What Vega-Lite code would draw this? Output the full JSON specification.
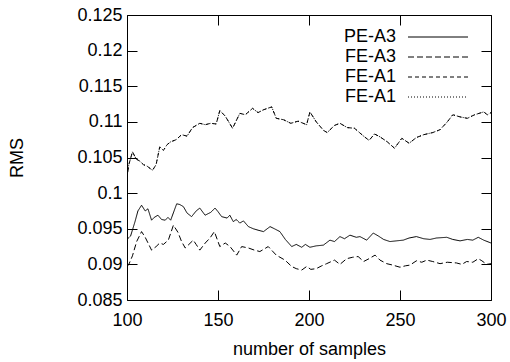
{
  "$schema": "https://vega.github.io/schema/vega-lite/v6.json",
  "width": 364,
  "height": 285,
  "autosize": "none",
  "padding": {"left": 127, "top": 15, "right": 19, "bottom": 62},
  "background": "white",
  "config": {
    "view": {"stroke": "black", "strokeWidth": 1},
    "font": "Liberation Sans",
    "axis": {"labelFont": "Liberation Sans", "titleFont": "Liberation Sans", "labelFontSize": 18, "titleFontSize": 18, "labelColor": "black", "titleColor": "black", "titleFontWeight": "normal", "grid": false, "domain": false, "tickColor": "black", "tickWidth": 1}
  },
  "data": {"values": [
    {"s":"PE-A3","n":100,"v":0.0935},{"s":"PE-A3","n":102,"v":0.0940},{"s":"PE-A3","n":104.4,"v":0.0960},{"s":"PE-A3","n":106,"v":0.0975},{"s":"PE-A3","n":108,"v":0.0983},{"s":"PE-A3","n":110,"v":0.0975},{"s":"PE-A3","n":111.5,"v":0.0978},{"s":"PE-A3","n":113.5,"v":0.0962},{"s":"PE-A3","n":115,"v":0.0966},{"s":"PE-A3","n":117,"v":0.0969},{"s":"PE-A3","n":119,"v":0.0963},{"s":"PE-A3","n":121,"v":0.0962},{"s":"PE-A3","n":122.5,"v":0.0966},{"s":"PE-A3","n":124,"v":0.0962},{"s":"PE-A3","n":127.3,"v":0.0985},{"s":"PE-A3","n":129,"v":0.0984},{"s":"PE-A3","n":131,"v":0.0981},{"s":"PE-A3","n":133,"v":0.0972},{"s":"PE-A3","n":135.5,"v":0.0967},{"s":"PE-A3","n":138,"v":0.0975},{"s":"PE-A3","n":140,"v":0.0979},{"s":"PE-A3","n":142.9,"v":0.0969},{"s":"PE-A3","n":146,"v":0.0973},{"s":"PE-A3","n":148.4,"v":0.0979},{"s":"PE-A3","n":150,"v":0.0974},{"s":"PE-A3","n":152,"v":0.0967},{"s":"PE-A3","n":155,"v":0.0965},{"s":"PE-A3","n":156.5,"v":0.0969},{"s":"PE-A3","n":158.4,"v":0.0960},{"s":"PE-A3","n":160,"v":0.0963},{"s":"PE-A3","n":162,"v":0.0958},{"s":"PE-A3","n":164,"v":0.0961},{"s":"PE-A3","n":166.7,"v":0.0953},{"s":"PE-A3","n":169.4,"v":0.0950},{"s":"PE-A3","n":172,"v":0.0948},{"s":"PE-A3","n":175,"v":0.0946},{"s":"PE-A3","n":178.6,"v":0.0953},{"s":"PE-A3","n":181,"v":0.0950},{"s":"PE-A3","n":184,"v":0.0946},{"s":"PE-A3","n":187,"v":0.0935},{"s":"PE-A3","n":190.5,"v":0.0925},{"s":"PE-A3","n":193,"v":0.0928},{"s":"PE-A3","n":196,"v":0.0924},{"s":"PE-A3","n":198,"v":0.0928},{"s":"PE-A3","n":200.5,"v":0.0924},{"s":"PE-A3","n":204,"v":0.0926},{"s":"PE-A3","n":207.9,"v":0.0927},{"s":"PE-A3","n":211.5,"v":0.0934},{"s":"PE-A3","n":214,"v":0.0932},{"s":"PE-A3","n":217,"v":0.0939},{"s":"PE-A3","n":219.5,"v":0.0936},{"s":"PE-A3","n":222.5,"v":0.0941},{"s":"PE-A3","n":226,"v":0.0938},{"s":"PE-A3","n":228,"v":0.0939},{"s":"PE-A3","n":231.7,"v":0.0934},{"s":"PE-A3","n":235.3,"v":0.0944},{"s":"PE-A3","n":238,"v":0.0940},{"s":"PE-A3","n":241,"v":0.0935},{"s":"PE-A3","n":244.5,"v":0.0932},{"s":"PE-A3","n":248,"v":0.0933},{"s":"PE-A3","n":251.8,"v":0.0934},{"s":"PE-A3","n":255,"v":0.0937},{"s":"PE-A3","n":259,"v":0.0939},{"s":"PE-A3","n":263,"v":0.0936},{"s":"PE-A3","n":266.5,"v":0.0935},{"s":"PE-A3","n":270,"v":0.0937},{"s":"PE-A3","n":275.7,"v":0.0938},{"s":"PE-A3","n":279,"v":0.0935},{"s":"PE-A3","n":283,"v":0.0933},{"s":"PE-A3","n":287,"v":0.0935},{"s":"PE-A3","n":290,"v":0.0934},{"s":"PE-A3","n":293,"v":0.0938},{"s":"PE-A3","n":296,"v":0.0934},{"s":"PE-A3","n":300,"v":0.0930},

    {"s":"FE-A3","n":100,"v":0.0897},{"s":"FE-A3","n":101,"v":0.0900},{"s":"FE-A3","n":103,"v":0.0912},{"s":"FE-A3","n":105.3,"v":0.0932},{"s":"FE-A3","n":108,"v":0.0946},{"s":"FE-A3","n":110,"v":0.0938},{"s":"FE-A3","n":113.5,"v":0.0920},{"s":"FE-A3","n":116,"v":0.0925},{"s":"FE-A3","n":118,"v":0.0930},{"s":"FE-A3","n":120,"v":0.0928},{"s":"FE-A3","n":122.7,"v":0.0934},{"s":"FE-A3","n":125.5,"v":0.0955},{"s":"FE-A3","n":128,"v":0.0945},{"s":"FE-A3","n":130,"v":0.0932},{"s":"FE-A3","n":132,"v":0.0923},{"s":"FE-A3","n":134,"v":0.0928},{"s":"FE-A3","n":136.4,"v":0.0934},{"s":"FE-A3","n":138,"v":0.0928},{"s":"FE-A3","n":140,"v":0.0920},{"s":"FE-A3","n":143,"v":0.0930},{"s":"FE-A3","n":145.6,"v":0.0937},{"s":"FE-A3","n":148,"v":0.0946},{"s":"FE-A3","n":151,"v":0.0925},{"s":"FE-A3","n":154,"v":0.0930},{"s":"FE-A3","n":156.6,"v":0.0925},{"s":"FE-A3","n":160.3,"v":0.0913},{"s":"FE-A3","n":163,"v":0.0925},{"s":"FE-A3","n":166.7,"v":0.0923},{"s":"FE-A3","n":170,"v":0.0920},{"s":"FE-A3","n":173,"v":0.0918},{"s":"FE-A3","n":177.6,"v":0.0925},{"s":"FE-A3","n":182,"v":0.0913},{"s":"FE-A3","n":186.8,"v":0.0906},{"s":"FE-A3","n":190.5,"v":0.0897},{"s":"FE-A3","n":193,"v":0.0894},{"s":"FE-A3","n":196,"v":0.0892},{"s":"FE-A3","n":198.7,"v":0.0897},{"s":"FE-A3","n":201,"v":0.0893},{"s":"FE-A3","n":204,"v":0.0894},{"s":"FE-A3","n":207,"v":0.0898},{"s":"FE-A3","n":209.7,"v":0.0901},{"s":"FE-A3","n":214,"v":0.0906},{"s":"FE-A3","n":217,"v":0.0900},{"s":"FE-A3","n":220.7,"v":0.0908},{"s":"FE-A3","n":224,"v":0.0910},{"s":"FE-A3","n":227,"v":0.0911},{"s":"FE-A3","n":230,"v":0.0904},{"s":"FE-A3","n":233,"v":0.0908},{"s":"FE-A3","n":236.3,"v":0.0913},{"s":"FE-A3","n":239,"v":0.0906},{"s":"FE-A3","n":242.7,"v":0.0901},{"s":"FE-A3","n":246,"v":0.0899},{"s":"FE-A3","n":250,"v":0.0896},{"s":"FE-A3","n":253,"v":0.0898},{"s":"FE-A3","n":255.5,"v":0.0899},{"s":"FE-A3","n":259,"v":0.0905},{"s":"FE-A3","n":262,"v":0.0903},{"s":"FE-A3","n":264.7,"v":0.0906},{"s":"FE-A3","n":268,"v":0.0904},{"s":"FE-A3","n":272,"v":0.0901},{"s":"FE-A3","n":276,"v":0.0903},{"s":"FE-A3","n":281,"v":0.0902},{"s":"FE-A3","n":284,"v":0.0900},{"s":"FE-A3","n":286.6,"v":0.0904},{"s":"FE-A3","n":290,"v":0.0903},{"s":"FE-A3","n":293,"v":0.0908},{"s":"FE-A3","n":295,"v":0.0905},{"s":"FE-A3","n":297.6,"v":0.0900},{"s":"FE-A3","n":300,"v":0.0901},

    {"s":"FE-A1a","n":100,"v":0.1021},{"s":"FE-A1a","n":101,"v":0.1040},{"s":"FE-A1a","n":103,"v":0.1058},{"s":"FE-A1a","n":105,"v":0.1048},{"s":"FE-A1a","n":107,"v":0.1045},{"s":"FE-A1a","n":109,"v":0.1040},{"s":"FE-A1a","n":111,"v":0.1038},{"s":"FE-A1a","n":114,"v":0.1032},{"s":"FE-A1a","n":116,"v":0.1040},{"s":"FE-A1a","n":118,"v":0.1065},{"s":"FE-A1a","n":120,"v":0.1060},{"s":"FE-A1a","n":122,"v":0.1068},{"s":"FE-A1a","n":124,"v":0.1072},{"s":"FE-A1a","n":127,"v":0.1075},{"s":"FE-A1a","n":130,"v":0.1082},{"s":"FE-A1a","n":133,"v":0.1080},{"s":"FE-A1a","n":136,"v":0.1092},{"s":"FE-A1a","n":140,"v":0.1098},{"s":"FE-A1a","n":143,"v":0.1096},{"s":"FE-A1a","n":146,"v":0.1098},{"s":"FE-A1a","n":149,"v":0.1097},{"s":"FE-A1a","n":151,"v":0.1116},{"s":"FE-A1a","n":154,"v":0.1108},{"s":"FE-A1a","n":158,"v":0.1091},{"s":"FE-A1a","n":162,"v":0.1112},{"s":"FE-A1a","n":165,"v":0.1110},{"s":"FE-A1a","n":169,"v":0.1119},{"s":"FE-A1a","n":172,"v":0.1113},{"s":"FE-A1a","n":175,"v":0.1117},{"s":"FE-A1a","n":179.5,"v":0.1121},{"s":"FE-A1a","n":182,"v":0.1105},{"s":"FE-A1a","n":186,"v":0.1103},{"s":"FE-A1a","n":190,"v":0.1098},{"s":"FE-A1a","n":194,"v":0.1101},{"s":"FE-A1a","n":198.7,"v":0.1096},{"s":"FE-A1a","n":200.5,"v":0.1114},{"s":"FE-A1a","n":204,"v":0.1100},{"s":"FE-A1a","n":208,"v":0.1088},{"s":"FE-A1a","n":210,"v":0.1085},{"s":"FE-A1a","n":214,"v":0.1095},{"s":"FE-A1a","n":217,"v":0.1098},{"s":"FE-A1a","n":221,"v":0.1092},{"s":"FE-A1a","n":225,"v":0.1091},{"s":"FE-A1a","n":230,"v":0.1080},{"s":"FE-A1a","n":233,"v":0.1074},{"s":"FE-A1a","n":236,"v":0.1083},{"s":"FE-A1a","n":239,"v":0.1079},{"s":"FE-A1a","n":243,"v":0.1072},{"s":"FE-A1a","n":247,"v":0.1063},{"s":"FE-A1a","n":251,"v":0.1077},{"s":"FE-A1a","n":255,"v":0.1070},{"s":"FE-A1a","n":259,"v":0.1078},{"s":"FE-A1a","n":263,"v":0.1082},{"s":"FE-A1a","n":268,"v":0.1085},{"s":"FE-A1a","n":272,"v":0.1089},{"s":"FE-A1a","n":276,"v":0.1100},{"s":"FE-A1a","n":279,"v":0.1110},{"s":"FE-A1a","n":283,"v":0.1107},{"s":"FE-A1a","n":287,"v":0.1105},{"s":"FE-A1a","n":291,"v":0.1110},{"s":"FE-A1a","n":296,"v":0.1114},{"s":"FE-A1a","n":298,"v":0.1110},{"s":"FE-A1a","n":300,"v":0.1113},

    {"s":"FE-A1b","n":100,"v":0.1021},{"s":"FE-A1b","n":101,"v":0.1040},{"s":"FE-A1b","n":103,"v":0.1058},{"s":"FE-A1b","n":105,"v":0.1048},{"s":"FE-A1b","n":107,"v":0.1045},{"s":"FE-A1b","n":109,"v":0.1040},{"s":"FE-A1b","n":111,"v":0.1038},{"s":"FE-A1b","n":114,"v":0.1032},{"s":"FE-A1b","n":116,"v":0.1040},{"s":"FE-A1b","n":118,"v":0.1065},{"s":"FE-A1b","n":120,"v":0.1060},{"s":"FE-A1b","n":122,"v":0.1068},{"s":"FE-A1b","n":124,"v":0.1072},{"s":"FE-A1b","n":127,"v":0.1075},{"s":"FE-A1b","n":130,"v":0.1082},{"s":"FE-A1b","n":133,"v":0.1080},{"s":"FE-A1b","n":136,"v":0.1092},{"s":"FE-A1b","n":140,"v":0.1098},{"s":"FE-A1b","n":143,"v":0.1096},{"s":"FE-A1b","n":146,"v":0.1098},{"s":"FE-A1b","n":149,"v":0.1097},{"s":"FE-A1b","n":151,"v":0.1116},{"s":"FE-A1b","n":154,"v":0.1108},{"s":"FE-A1b","n":158,"v":0.1091},{"s":"FE-A1b","n":162,"v":0.1112},{"s":"FE-A1b","n":165,"v":0.1110},{"s":"FE-A1b","n":169,"v":0.1119},{"s":"FE-A1b","n":172,"v":0.1113},{"s":"FE-A1b","n":175,"v":0.1117},{"s":"FE-A1b","n":179.5,"v":0.1121},{"s":"FE-A1b","n":182,"v":0.1105},{"s":"FE-A1b","n":186,"v":0.1103},{"s":"FE-A1b","n":190,"v":0.1098},{"s":"FE-A1b","n":194,"v":0.1101},{"s":"FE-A1b","n":198.7,"v":0.1096},{"s":"FE-A1b","n":200.5,"v":0.1114},{"s":"FE-A1b","n":204,"v":0.1100},{"s":"FE-A1b","n":208,"v":0.1088},{"s":"FE-A1b","n":210,"v":0.1085},{"s":"FE-A1b","n":214,"v":0.1095},{"s":"FE-A1b","n":217,"v":0.1098},{"s":"FE-A1b","n":221,"v":0.1092},{"s":"FE-A1b","n":225,"v":0.1091},{"s":"FE-A1b","n":230,"v":0.1080},{"s":"FE-A1b","n":233,"v":0.1074},{"s":"FE-A1b","n":236,"v":0.1083},{"s":"FE-A1b","n":239,"v":0.1079},{"s":"FE-A1b","n":243,"v":0.1072},{"s":"FE-A1b","n":247,"v":0.1063},{"s":"FE-A1b","n":251,"v":0.1077},{"s":"FE-A1b","n":255,"v":0.1070},{"s":"FE-A1b","n":259,"v":0.1078},{"s":"FE-A1b","n":263,"v":0.1082},{"s":"FE-A1b","n":268,"v":0.1085},{"s":"FE-A1b","n":272,"v":0.1089},{"s":"FE-A1b","n":276,"v":0.1100},{"s":"FE-A1b","n":279,"v":0.1110},{"s":"FE-A1b","n":283,"v":0.1107},{"s":"FE-A1b","n":287,"v":0.1105},{"s":"FE-A1b","n":291,"v":0.1110},{"s":"FE-A1b","n":296,"v":0.1114},{"s":"FE-A1b","n":298,"v":0.1110},{"s":"FE-A1b","n":300,"v":0.1113}
  ]},
  "layer": [
    {
      "mark": {"type": "line", "color": "black", "strokeWidth": 1, "clip": true},
      "encoding": {
        "x": {"field": "n", "type": "quantitative", "scale": {"domain": [100, 300], "nice": false, "zero": false},
              "axis": {"orient": "bottom", "title": "number of samples", "values": [100, 150, 200, 250, 300], "tickSize": -10, "labelPadding": 21, "titlePadding": 11, "labelFlush": false}},
        "y": {"field": "v", "type": "quantitative", "scale": {"domain": [0.085, 0.125], "nice": false, "zero": false},
              "axis": {"orient": "left", "title": "RMS", "values": [0.085, 0.09, 0.095, 0.1, 0.105, 0.11, 0.115, 0.12, 0.125], "format": "~g", "tickSize": -10, "labelPadding": 15, "titlePadding": 50, "labelFlush": false}},
        "strokeDash": {"field": "s", "type": "nominal",
          "scale": {"domain": ["PE-A3", "FE-A3", "FE-A1a", "FE-A1b"], "range": [[1, 0], [6, 3], [4, 3], [1, 2]]},
          "legend": {"orient": "none", "legendX": 302, "legendY": 13, "title": null, "symbolType": "M-4,0H4", "symbolSize": 225, "symbolStrokeWidth": 1, "symbolStrokeColor": "black", "labelAlign": "right", "labelOffset": -51, "labelFont": "Liberation Sans", "labelFontSize": 18, "labelColor": "black", "rowPadding": 2, "padding": 0, "labelExpr": "substring(datum.label, 0, 5)"}}
      }
    },
    {
      "mark": {"type": "point", "opacity": 0},
      "encoding": {
        "x": {"field": "n", "type": "quantitative", "axis": {"orient": "top", "title": null, "labels": false, "values": [100, 150, 200, 250, 300], "tickSize": -10}},
        "y": {"field": "v", "type": "quantitative", "axis": {"orient": "right", "title": null, "labels": false, "values": [0.085, 0.09, 0.095, 0.1, 0.105, 0.11, 0.115, 0.12, 0.125], "tickSize": -10}}
      }
    }
  ],
  "resolve": {"axis": {"x": "independent", "y": "independent"}}
}
